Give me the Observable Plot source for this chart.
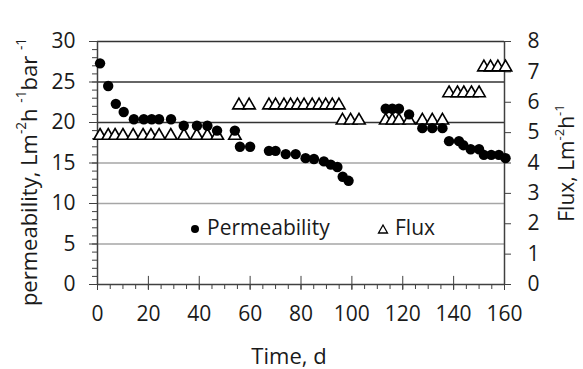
<!DOCTYPE html>
<html><head><meta charset="utf-8">
<script src="https://cdn.jsdelivr.net/npm/d3@7"></script>
<script src="https://cdn.jsdelivr.net/npm/@observablehq/plot@0.6"></script>
<style>
body{margin:0;background:#fff;font-family:"Open Sans",sans-serif;}
#wrap{position:relative;width:583px;height:369px;}
.t{position:absolute;white-space:nowrap;color:#1a1a1a;}
.t sup{font-size:0.62em;vertical-align:0.55em;line-height:0;}
.vert{writing-mode:vertical-rl;transform:translateY(-50%) rotate(180deg);}
</style></head>
<body><div id="wrap"></div>
<script>
// Permeability series (left axis, Lm-2h-1bar-1)
const timePerm = [1, 4.2, 7.2, 10.3, 14.3, 18.2, 21.3, 24.2, 28.9, 33.9, 39.1, 43.2, 47, 54, 56, 60,
  67.4, 70, 74, 77.9, 81.8, 85.1, 89, 91.7, 94.3, 96.4, 98.7,
  113.3, 115.9, 118.5, 122.5, 127.7, 131.6, 135.6, 138.2, 142.1, 143.8, 146.7, 150, 151.9, 154.8, 157.8, 160.4];
const permeability = [27.3, 24.5, 22.3, 21.3, 20.4, 20.4, 20.4, 20.4, 20.4, 19.6, 19.6, 19.6, 19.0, 19.0, 17.0, 17.0,
  16.5, 16.5, 16.1, 16.1, 15.6, 15.5, 15.2, 14.8, 14.5, 13.3, 12.8,
  21.7, 21.7, 21.7, 21.0, 19.3, 19.3, 19.3, 17.7, 17.7, 17.2, 16.7, 16.7, 16.0, 16.0, 16.0, 15.6];
// Flux series (right axis, Lm-2h-1)
const timeFlux = [1, 4.2, 6.9, 10, 14, 17.9, 21, 24.2, 28.8, 34, 39, 43.2, 47.1, 54,
  55.6, 59.6, 67.4, 70, 73.3, 75.9, 78.6, 81.2, 84.4, 87.1, 89.7, 92.3, 94.9,
  96.3, 99.5, 102.8,
  113.3, 115.9, 118.5, 122.5, 127.7, 131.6, 135.6,
  138.2, 141.5, 144, 147, 150,
  151.9, 154.5, 157.4, 160.4];
const flux = [4.9, 4.9, 4.9, 4.9, 4.9, 4.9, 4.9, 4.9, 4.9, 4.9, 4.9, 4.9, 4.9, 4.9,
  5.9, 5.9, 5.9, 5.9, 5.9, 5.9, 5.9, 5.9, 5.9, 5.9, 5.9, 5.9, 5.9,
  5.4, 5.4, 5.4,
  5.4, 5.4, 5.4, 5.4, 5.4, 5.4, 5.4,
  6.3, 6.3, 6.3, 6.3, 6.3,
  7.15, 7.15, 7.15, 7.15];
// Axis ticks
const xMajor = [0, 20, 40, 60, 80, 100, 120, 140, 160];
const xMinor = d3.range(0, 161, 5);
const yMajor = [0, 5, 10, 15, 20, 25, 30];
const yMinor = d3.range(0, 31, 1);
const fluxTicks = [0, 1, 2, 3, 4, 5, 6, 7, 8];
const gridLight = [5, 10, 15];
const gridDark = [20, 25, 30];

const FLUX_MAX = 8, PERM_MAX = 30, k = PERM_MAX / FLUX_MAX;
const permData = timePerm.map((t, i) => ({t, v: permeability[i]}));
const fluxData = timeFlux.map((t, i) => ({t, v: flux[i]}));
const axisColor = "#404040";

const chart = Plot.plot({
  width: 583, height: 369,
  marginLeft: 97, marginRight: 79, marginTop: 41, marginBottom: 85,
  style: {fontFamily: "Open Sans, sans-serif", fontSize: "21px", color: "#1a1a1a", background: "#fff"},
  x: {domain: [0, 160]},
  y: {domain: [0, 30]},
  marks: [
    Plot.ruleY(gridLight, {stroke: "#a6a6a6", strokeWidth: 1.3}),
    Plot.ruleY(gridDark, {stroke: "#333", strokeWidth: 1.3}),
    // left axis
    Plot.axisY({ticks: yMinor, tickSize: 5, text: null, stroke: axisColor, label: null}),
    Plot.axisY({ticks: yMajor, tickSize: 8, tickPadding: 14, stroke: axisColor, label: null, fontSize: 21}),
    // right (flux) axis mapped onto the y scale
    Plot.axisY({anchor: "right", ticks: fluxTicks.map(f => f * k), tickFormat: d => Math.round(d / k),
      tickSize: 6, tickPadding: 17, stroke: axisColor, label: null, fontSize: 21}),
    // bottom axis
    Plot.axisX({ticks: xMinor, tickSize: 5, text: null, stroke: axisColor, label: null}),
    Plot.axisX({ticks: xMajor, tickSize: 6, tickPadding: 16, stroke: axisColor, label: null, fontSize: 21}),
    Plot.ruleX(xMajor, {y1: 0, y2: 1, stroke: axisColor, strokeWidth: 1}),
    Plot.ruleX([0, 160], {stroke: axisColor, strokeWidth: 1.5}),
    Plot.ruleY([0], {stroke: axisColor, strokeWidth: 1.5}),
    // data
    Plot.dot(fluxData, {x: "t", y: d => d.v * k, symbol: "triangle", r: 4.6, stroke: "#000", fill: "#fff", strokeWidth: 1.6}),
    Plot.dot(permData, {x: "t", y: "v", r: 5.2, fill: "#000", stroke: "none"})
  ]
});
const wrap = document.getElementById("wrap");
wrap.appendChild(chart);

function addText(html, style, cls) {
  const d = document.createElement("div");
  d.className = "t " + (cls || "");
  d.innerHTML = html;
  Object.assign(d.style, style);
  wrap.appendChild(d);
  return d;
}
addText("permeability, Lm<sup>-2</sup>h <sup>-1</sup>bar <sup>-1</sup>", {left: "16px", top: "172px", fontSize: "22px", lineHeight: "24px"}, "vert");
addText("Flux, Lm<sup>-2</sup>h<sup>-1</sup>", {left: "554px", top: "163px", fontSize: "21px", lineHeight: "24px"}, "vert");
addText("Time, d", {left: "289px", top: "355px", fontSize: "22px", transform: "translate(-50%,-50%)"});
// legend
addText('<svg width="12" height="12" style="vertical-align:middle;margin-right:6px"><circle cx="6" cy="6" r="4" fill="#000"/></svg>Permeability',
  {left: "189px", top: "213px", fontSize: "21px"});
addText('<svg width="12" height="12" style="vertical-align:middle;margin-right:6px"><path d="M6,2 L10.5,10 L1.5,10 Z" fill="#fff" stroke="#000" stroke-width="1.3"/></svg>Flux',
  {left: "377px", top: "213px", fontSize: "21px"});
</script></body></html>
